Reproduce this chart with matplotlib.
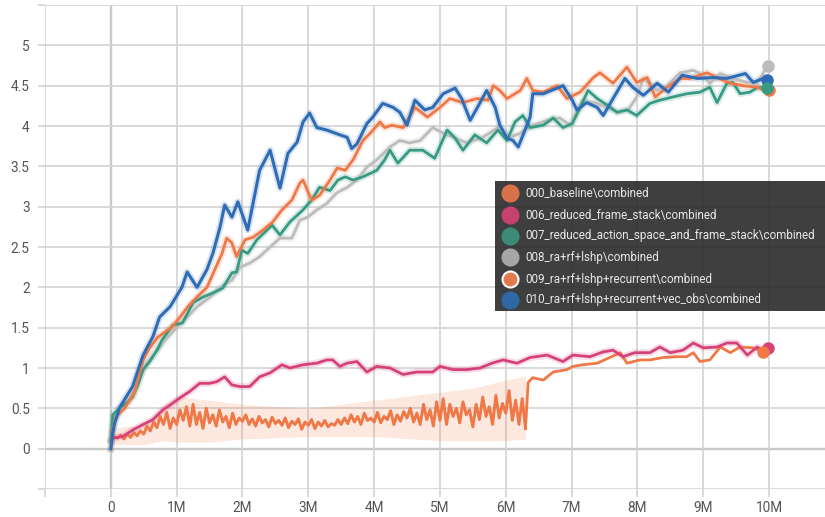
import matplotlib.pyplot as plt
import numpy as np
from matplotlib.lines import Line2D
from matplotlib.patches import Rectangle

plt.rcParams['font.family'] = ['Roboto', 'DejaVu Sans']

# steps in millions
blue_x = [0, 0.03, 0.06, 0.14, 0.33, 0.49, 0.64, 0.74, 0.90, 1.08, 1.16, 1.31, 1.46, 1.55, 1.66, 1.73,
          1.84, 1.93, 2.08, 2.26, 2.42, 2.57, 2.69, 2.83, 2.92, 3.02, 3.13, 3.28, 3.48, 3.59, 3.66, 3.74,
          3.89, 3.98, 4.13, 4.29, 4.39, 4.50, 4.62, 4.77, 4.89, 5.05, 5.23, 5.33, 5.46, 5.61, 5.71, 5.84,
          5.91, 6.02, 6.11, 6.19, 6.37, 6.41, 6.57, 6.72, 6.87, 7.01, 7.08, 7.23, 7.39, 7.48, 7.63, 7.81,
          7.93, 8.09, 8.30, 8.47, 8.68, 8.91, 9.15, 9.36, 9.64, 9.76, 9.91, 9.97]
blue_y = [0.0, 0.2, 0.32, 0.52, 0.77, 1.16, 1.39, 1.63, 1.76, 2.0, 2.19, 2.0, 2.22, 2.42, 2.75, 3.02,
          2.87, 3.06, 2.71, 3.45, 3.70, 3.23, 3.66, 3.80, 4.05, 4.16, 3.98, 3.95, 3.89, 3.86, 3.72, 3.78,
          4.03, 4.11, 4.28, 4.23, 4.17, 4.01, 4.32, 4.20, 4.23, 4.40, 4.47, 4.34, 4.07, 4.29, 4.44, 4.23,
          4.01, 3.85, 3.82, 3.74, 4.11, 4.40, 4.40, 4.45, 4.50, 4.32, 4.20, 4.29, 4.23, 4.13, 4.34, 4.59,
          4.48, 4.38, 4.53, 4.42, 4.63, 4.59, 4.60, 4.59, 4.65, 4.54, 4.59, 4.57]

base_x = [0, 0.03, 0.08, 0.21, 0.36, 0.49, 0.59, 0.71, 0.93, 1.05, 1.17, 1.31, 1.46, 1.58, 1.69, 1.76,
          1.84, 1.91, 2.04, 2.16, 2.31, 2.46, 2.60, 2.75, 2.87, 2.92, 3.05, 3.17, 3.33, 3.44, 3.56, 3.68,
          3.83, 3.94, 4.09, 4.16, 4.27, 4.44, 4.62, 4.81, 5.00, 5.15, 5.35, 5.56, 5.73, 5.81, 5.91, 6.02,
          6.22, 6.32, 6.41, 6.57, 6.78, 6.93, 7.13, 7.33, 7.43, 7.63, 7.84, 7.99, 8.15, 8.27, 8.45, 8.65,
          8.80, 9.06, 9.21, 9.41, 9.61, 9.82, 9.94, 10.0]
base_y = [0, 0.25, 0.4, 0.5, 0.7, 1.1, 1.25, 1.38, 1.51, 1.63, 1.76, 1.88, 2.0, 2.22, 2.42, 2.61,
          2.55, 2.38, 2.59, 2.62, 2.71, 2.81, 2.96, 3.08, 3.29, 3.33, 3.08, 3.14, 3.33, 3.48, 3.45, 3.58,
          3.82, 3.91, 4.05, 3.98, 4.01, 3.98, 4.23, 4.11, 4.23, 4.34, 4.29, 4.34, 4.32, 4.50, 4.44, 4.34,
          4.44, 4.59, 4.44, 4.42, 4.50, 4.34, 4.42, 4.60, 4.66, 4.53, 4.73, 4.54, 4.60, 4.36, 4.48, 4.59,
          4.59, 4.66, 4.60, 4.53, 4.50, 4.48, 4.44, 4.45]

teal_x = [0, 0.03, 0.14, 0.26, 0.33, 0.41, 0.49, 0.59, 0.70, 0.78, 0.94, 1.09, 1.25, 1.40, 1.55, 1.70,
          1.84, 1.91, 1.99, 2.08, 2.22, 2.45, 2.57, 2.72, 2.92, 3.05, 3.17, 3.33, 3.45, 3.56, 3.68, 3.83,
          4.04, 4.16, 4.24, 4.36, 4.44, 4.54, 4.74, 4.92, 5.11, 5.23, 5.35, 5.53, 5.71, 5.88, 6.02, 6.14,
          6.26, 6.37, 6.57, 6.72, 6.87, 7.01, 7.13, 7.25, 7.39, 7.54, 7.69, 7.84, 7.99, 8.19, 8.34, 8.54,
          8.75, 8.95, 9.10, 9.21, 9.36, 9.45, 9.56, 9.71, 9.83, 9.97]
teal_y = [0.1, 0.42, 0.51, 0.58, 0.64, 0.79, 0.98, 1.08, 1.22, 1.35, 1.53, 1.56, 1.81, 1.88, 1.93, 1.99,
          2.18, 2.19, 2.46, 2.42, 2.59, 2.77, 2.65, 2.81, 2.96, 3.08, 3.24, 3.20, 3.33, 3.37, 3.33, 3.37,
          3.45, 3.58, 3.70, 3.54, 3.61, 3.70, 3.70, 3.60, 3.95, 3.85, 3.70, 3.89, 3.79, 3.95, 3.82, 4.05,
          4.13, 3.98, 4.01, 4.10, 3.98, 4.03, 4.23, 4.44, 4.34, 4.26, 4.17, 4.20, 4.13, 4.28, 4.32, 4.36,
          4.40, 4.42, 4.48, 4.29, 4.53, 4.54, 4.40, 4.42, 4.48, 4.47]

gray_x = [0, 0.03, 0.14, 0.33, 0.55, 0.71, 0.85, 1.00, 1.16, 1.31, 1.51, 1.66, 1.84, 1.96, 2.11, 2.26,
          2.42, 2.57, 2.75, 2.87, 2.99, 3.13, 3.28, 3.43, 3.59, 3.74, 3.89, 4.04, 4.24, 4.39, 4.54, 4.70,
          4.89, 5.05, 5.20, 5.41, 5.65, 5.88, 6.06, 6.22, 6.41, 6.63, 6.82, 6.98, 7.17, 7.39, 7.54, 7.71,
          7.86, 7.99, 8.09, 8.30, 8.45, 8.65, 8.85, 9.00, 9.10, 9.26, 9.45, 9.67, 9.82, 9.98]
gray_y = [0.1, 0.35, 0.48, 0.69, 1.06, 1.22, 1.37, 1.50, 1.63, 1.76, 1.88, 2.0, 2.09, 2.25, 2.30, 2.38,
          2.50, 2.61, 2.61, 2.83, 2.87, 2.96, 3.04, 3.17, 3.24, 3.33, 3.49, 3.58, 3.74, 3.82, 3.79, 3.82,
          3.98, 3.91, 3.86, 3.79, 3.86, 3.98, 3.86, 3.91, 4.01, 4.07, 4.10, 4.01, 4.32, 4.28, 4.23, 4.17,
          4.20, 4.36, 4.59, 4.44, 4.50, 4.66, 4.69, 4.63, 4.53, 4.65, 4.59, 4.54, 4.53, 4.75]

pink_x = [0, 0.03, 0.18, 0.33, 0.49, 0.64, 0.79, 0.90, 1.05, 1.20, 1.35, 1.50, 1.61, 1.73, 1.84, 1.96,
          2.11, 2.26, 2.42, 2.60, 2.72, 2.92, 3.13, 3.28, 3.37, 3.48, 3.59, 3.74, 3.89, 4.04, 4.24, 4.44,
          4.65, 4.89, 5.00, 5.20, 5.41, 5.61, 5.79, 5.96, 6.17, 6.37, 6.63, 6.87, 7.02, 7.28, 7.48, 7.63,
          7.78, 7.96, 8.19, 8.34, 8.50, 8.69, 8.85, 9.00, 9.21, 9.36, 9.51, 9.67, 9.82, 9.91, 9.98]
pink_y = [0.1, 0.13, 0.15, 0.23, 0.30, 0.36, 0.48, 0.54, 0.63, 0.71, 0.81, 0.81, 0.83, 0.89, 0.79, 0.77,
          0.77, 0.89, 0.94, 1.04, 1.00, 1.04, 1.06, 1.10, 1.10, 1.02, 1.06, 1.08, 0.95, 1.02, 1.00, 0.92,
          0.95, 0.95, 1.02, 0.98, 0.98, 1.00, 1.06, 1.10, 1.06, 1.13, 1.16, 1.08, 1.16, 1.14, 1.20, 1.22,
          1.14, 1.19, 1.19, 1.26, 1.19, 1.22, 1.31, 1.25, 1.26, 1.31, 1.31, 1.16, 1.26, 1.22, 1.25]

# recurrent run: noisy part (every 0.05M from 0 to 6.3M), then the smooth resumed part
rec_noisy = [0.10, 0.15, 0.13, 0.17, 0.12, 0.18, 0.14, 0.20, 0.16, 0.22, 0.18,
             0.28, 0.22, 0.33, 0.26, 0.40, 0.30, 0.45, 0.25, 0.38, 0.30,
             0.48, 0.35, 0.52, 0.28, 0.55, 0.30, 0.45, 0.25, 0.50, 0.32,
             0.42, 0.28, 0.48, 0.33, 0.40, 0.26, 0.44, 0.30, 0.38, 0.34,
             0.42, 0.30, 0.37, 0.28, 0.40, 0.32, 0.36, 0.27, 0.39, 0.31,
             0.35, 0.29, 0.38, 0.26, 0.34, 0.30, 0.37, 0.24, 0.33, 0.29,
             0.36, 0.25, 0.33, 0.28, 0.35, 0.27, 0.31, 0.29, 0.36, 0.30,
             0.38, 0.31, 0.42, 0.33, 0.40, 0.30, 0.44, 0.35, 0.38, 0.33,
             0.45, 0.32, 0.40, 0.36, 0.47, 0.30, 0.42, 0.34, 0.46, 0.38,
             0.50, 0.33, 0.44, 0.30, 0.55, 0.36, 0.48, 0.28, 0.58, 0.35,
             0.62, 0.30, 0.55, 0.40, 0.50, 0.32, 0.58, 0.42, 0.48, 0.27,
             0.55, 0.36, 0.64, 0.40, 0.52, 0.30, 0.66, 0.38, 0.56, 0.44,
             0.72, 0.35, 0.60, 0.30, 0.62, 0.25]
rec_noisy_x = np.linspace(0, 6.3, len(rec_noisy))
rec_x2 = [6.34, 6.41, 6.57, 6.72, 6.93, 7.02, 7.17, 7.39, 7.58, 7.74, 7.84, 8.04, 8.19, 8.39, 8.60, 8.75,
          8.85, 8.95, 9.10, 9.26, 9.41, 9.56, 9.76, 9.91]
rec_y2 = [0.82, 0.88, 0.85, 0.95, 0.98, 1.02, 1.04, 1.06, 1.13, 1.19, 1.06, 1.10, 1.10, 1.13, 1.14, 1.14,
          1.19, 1.08, 1.10, 1.26, 1.19, 1.26, 1.25, 1.20]
rec_band_x = [0, 0.5, 0.8, 1.0, 1.5, 2.0, 3.0, 4.0, 5.0, 5.5, 6.0, 6.3]
rec_band_lo = [0.05, 0.05, 0.10, 0.08, 0.08, 0.12, 0.15, 0.15, 0.10, 0.10, 0.10, 0.12]
rec_band_hi = [0.25, 0.30, 0.55, 0.65, 0.60, 0.55, 0.50, 0.60, 0.70, 0.75, 0.85, 0.90]

run_names = ['000_baseline\\combined', '006_reduced_frame_stack\\combined',
             '007_reduced_action_space_and_frame_stack\\combined', '008_ra+rf+lshp\\combined',
             '009_ra+rf+lshp+recurrent\\combined', '010_ra+rf+lshp+recurrent+vec_obs\\combined']

c_orange = '#ef7846'
c_pink = '#d6417a'
c_teal = '#379a83'
c_gray = '#bcbcbc'
c_blue = '#2e6db6'

fig = plt.figure(figsize=(8.25, 5.17), dpi=100)
ax = fig.add_axes([45 / 825, 28 / 517, 780 / 825, 484 / 517])
ax.set_xlim(-1, 10.85)
ax.set_ylim(-0.5, 5.5)
for s in ax.spines.values():
    s.set_visible(False)

xt = list(range(-1, 11))
ax.set_xticks(xt)
ax.set_xticklabels([''] + ['0'] + ['%dM' % i for i in range(1, 11)])
yt = [i * 0.5 for i in range(-1, 12)]
ax.set_yticks(yt)
ax.set_yticklabels([''] + ['%g' % v for v in yt[1:-1]] + [''])
ax.grid(True, color='#d3d3d3', lw=1.2)
ax.tick_params(axis='x', length=6, width=1.2, color='#d3d3d3', pad=3, labelsize=9.8, labelcolor='#555555')
ax.tick_params(axis='y', length=5, width=1.2, color='#d3d3d3', pad=6, labelsize=9.8, labelcolor='#555555')
ax.axhline(0, color='#9a9a9a', lw=1.6, zorder=1)
ax.axvline(0, color='#9a9a9a', lw=1.6, zorder=1)

# faint raw bands
ax.fill_between(rec_band_x, rec_band_lo, rec_band_hi, color=c_orange, alpha=0.17, lw=0, zorder=2)
for xs, ys, c in [(gray_x, gray_y, c_gray), (pink_x, pink_y, c_pink), (teal_x, teal_y, c_teal),
                  (base_x, base_y, c_orange), (blue_x, blue_y, c_blue)]:
    ax.plot(xs, ys, color=c, lw=5, alpha=0.18, zorder=2, solid_joinstyle='round')

ax.plot(rec_noisy_x, rec_noisy, color=c_orange, lw=2.1, zorder=3)
ax.plot([rec_noisy_x[-1]] + rec_x2, [rec_noisy[-1]] + rec_y2, color=c_orange, lw=2.0, zorder=3)
ax.plot(pink_x, pink_y, color=c_pink, lw=2.0, zorder=3)
ax.plot(gray_x, gray_y, color=c_gray, lw=2.0, zorder=3)
ax.plot(teal_x, teal_y, color=c_teal, lw=2.0, zorder=4)
ax.plot(base_x, base_y, color=c_orange, lw=2.0, zorder=4)
ax.plot(blue_x, blue_y, color=c_blue, lw=2.2, zorder=5)

# end markers
for xs, ys, c in [(gray_x, gray_y, c_gray), (blue_x, blue_y, c_blue), (base_x, base_y, c_orange),
                  (teal_x, teal_y, c_teal), (pink_x, pink_y, c_pink), (rec_x2, rec_y2, c_orange)]:
    ax.plot(xs[-1], ys[-1], 'o', color=c, ms=8, zorder=6)

# tooltip-like legend box
fig.add_artist(Rectangle((495 / 825, (517 - 311) / 517), 340 / 825, 130 / 517,
                         transform=fig.transFigure, color='#2a2a2a', alpha=0.9, lw=0, zorder=10))
leg_colors = ['#d9714b', '#c4426f', '#3a8b77', '#a6a6a6', '#e07a4f', '#2e69a6']
row_y = [193, 215, 236, 257, 279, 300]
for i, name in enumerate(run_names):
    fy = (517 - row_y[i]) / 517
    ec = 'white' if i == 4 else leg_colors[i]
    fig.add_artist(Line2D([510 / 825], [fy], marker='o', ms=11.5, color=leg_colors[i], mec=ec, mew=1.5,
                          transform=fig.transFigure, zorder=11))
    fig.text(525 / 825, fy, name, color='#e8e8e8', fontsize=8.4, va='center', ha='left', zorder=12)

plt.savefig('out.png', dpi=100)
